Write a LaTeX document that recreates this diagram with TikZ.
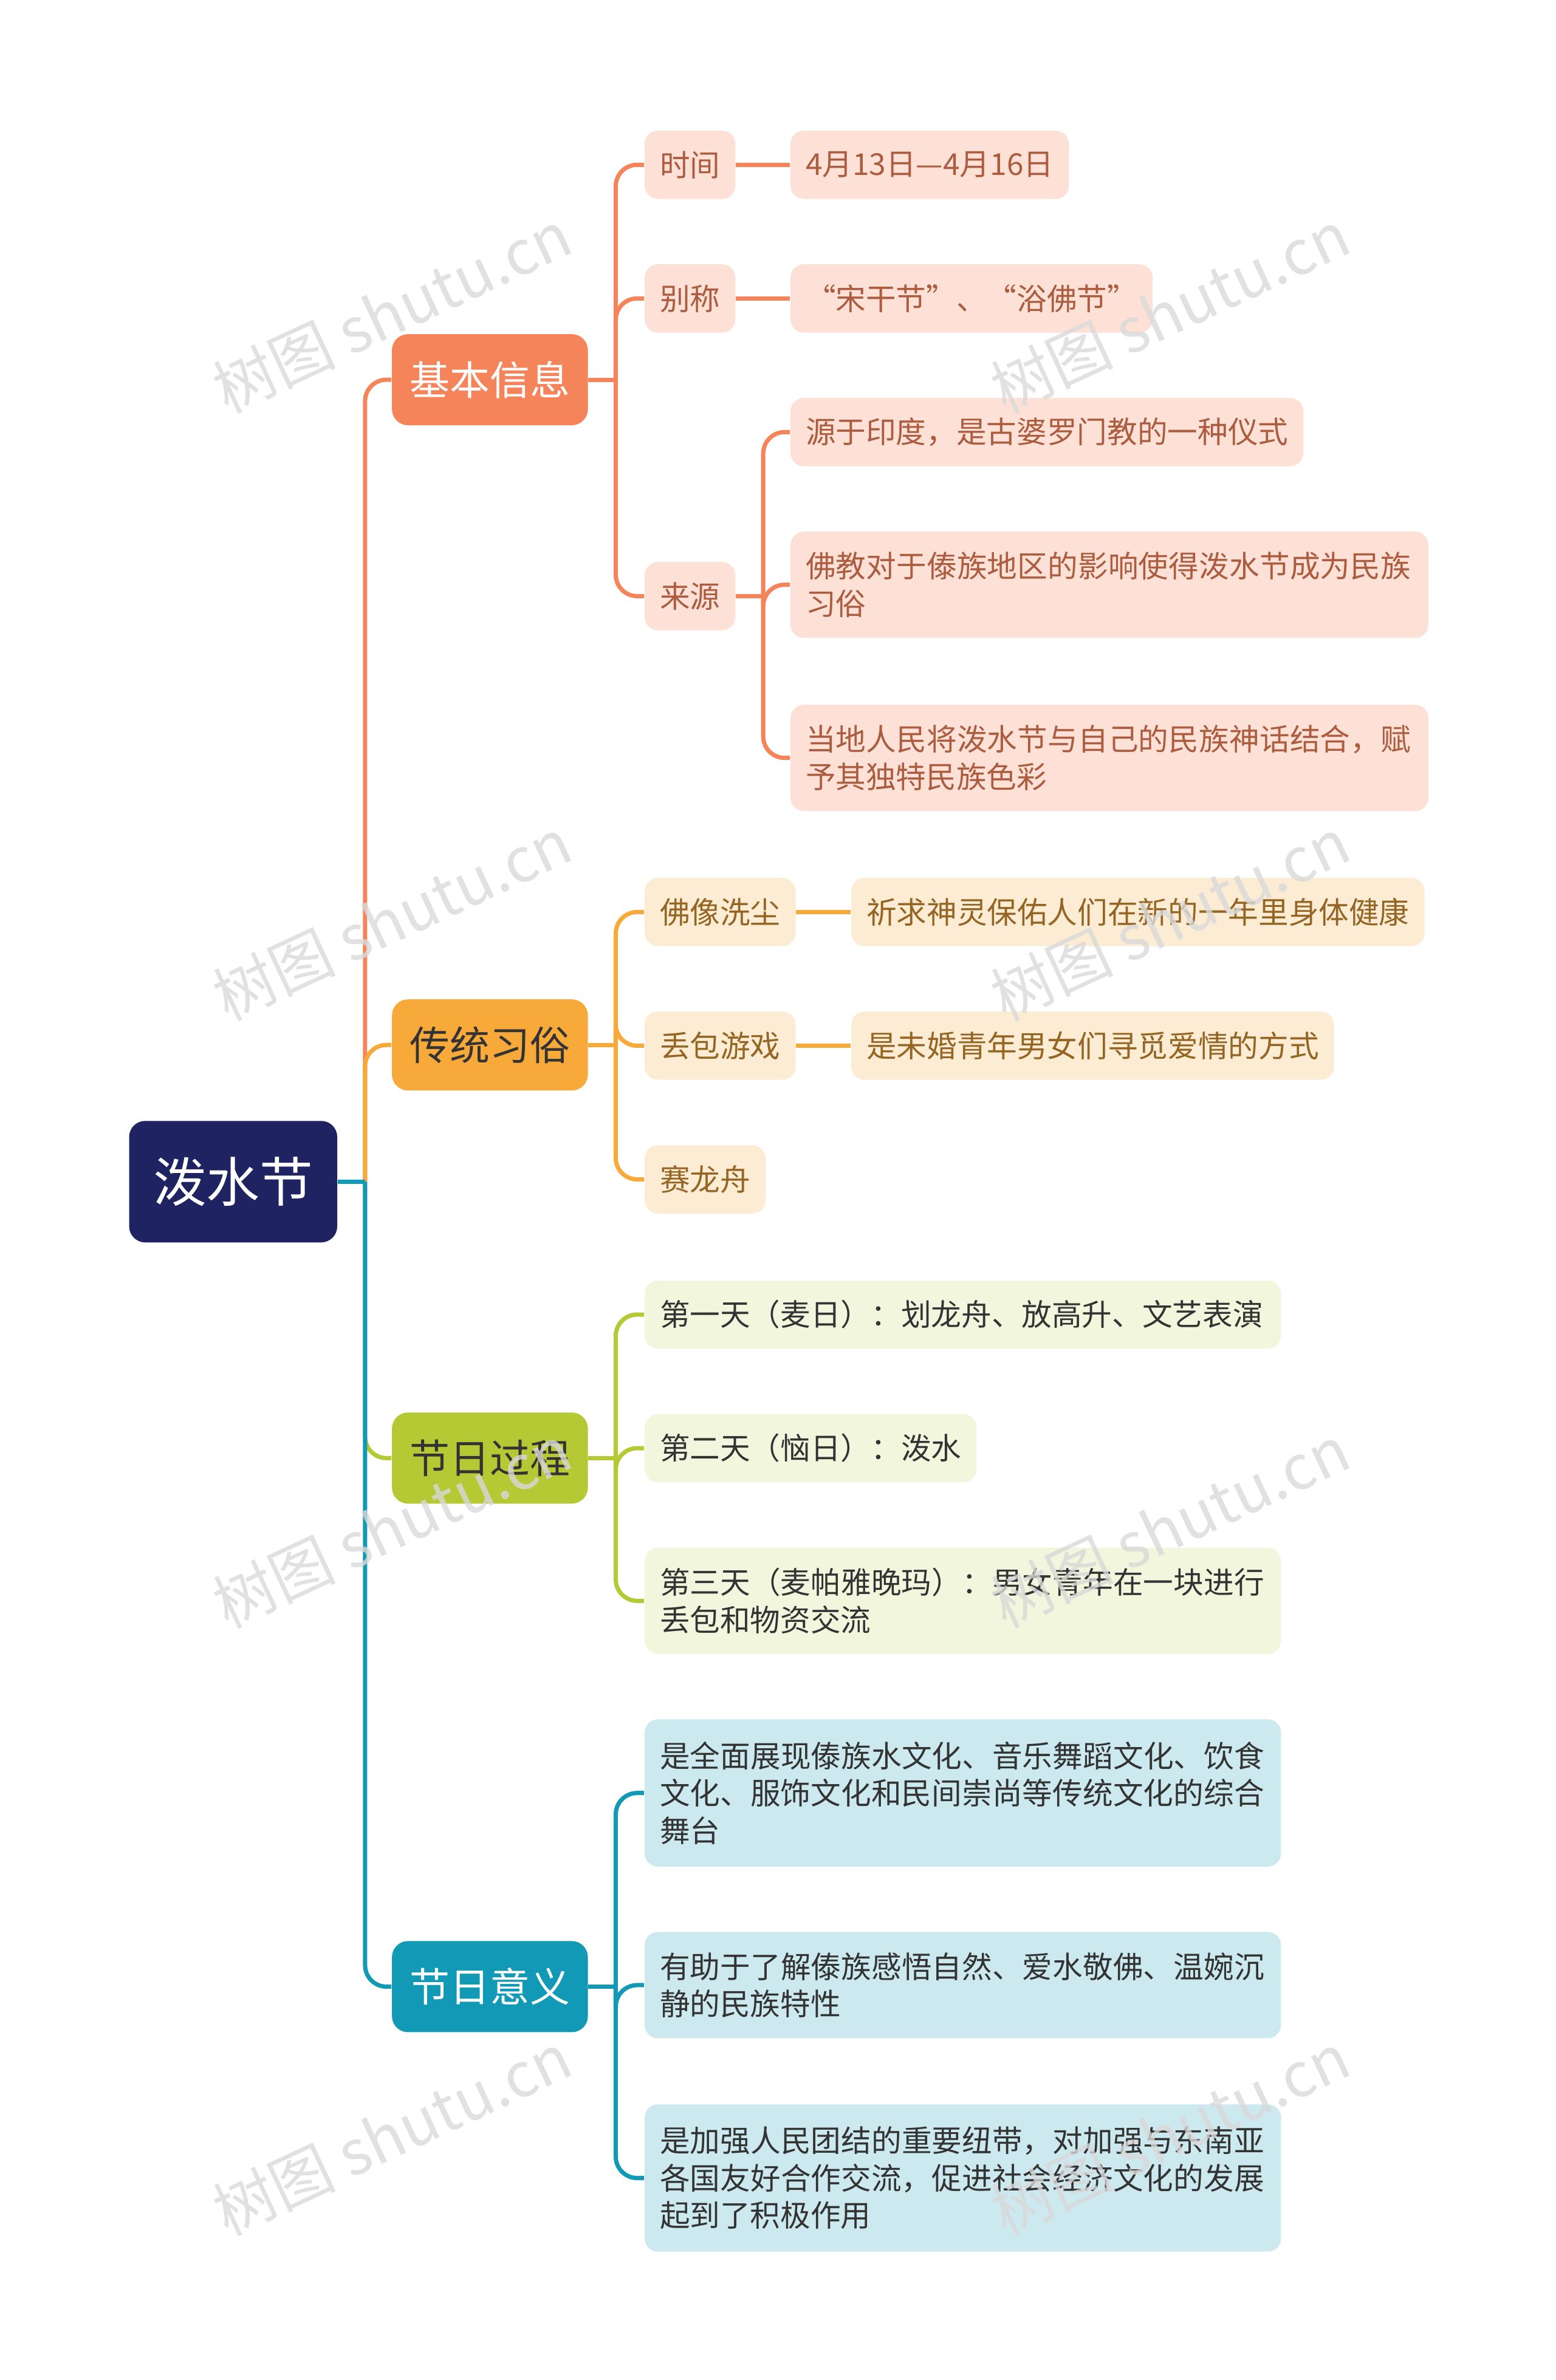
\documentclass[tikz,border=0pt]{standalone}
\usepackage{fontspec}
\setmainfont{Noto Sans CJK SC}
\XeTeXlinebreaklocale "zh"
\XeTeXlinebreakskip=0pt plus 1pt
\definecolor{rootc}{HTML}{1F2361}
\definecolor{infoc}{HTML}{F6845A}
\definecolor{custc}{HTML}{F7A93A}
\definecolor{procc}{HTML}{B5C934}
\definecolor{meanc}{HTML}{1199B5}
\begin{document}
\begin{tikzpicture}[x=0.02cm,y=-0.02cm,
  box/.style={rounded corners=5pt,inner xsep=0.2cm,inner ysep=0pt,minimum height=0.9cm,anchor=west,align=left,font=\fontsize{11.3}{14}\selectfont},
  branch/.style={rounded corners=6pt,minimum width=2.58cm,minimum height=1.2cm,text=white,font=\fontsize{15}{18}\selectfont},
  info/.style={box,fill=infoc!25,text=infoc!70!black},
  cust/.style={box,fill=custc!22,text=custc!60!black},
  proc/.style={box,fill=procc!17,text=black!80},
  mean/.style={box,fill=meanc!22,text=black!80},
  link/.style={line width=1.6pt,rounded corners=8pt},
  wmark/.style={rotate=25,text=gray!30,opacity=0.8,font=\fontsize{23}{23}\selectfont}]
\useasboundingbox (0,0) rectangle (1024,1567);

\node[rounded corners=6pt,fill=rootc,text=white,minimum width=2.74cm,minimum height=1.6cm,font=\fontsize{20}{24}\selectfont] (root) at (153.5,778) {泼水节};

\node[branch,fill=infoc] (info) at (322.5,250) {基本信息};
\node[branch,fill=custc,text=black!80] (cust) at (322.5,688) {传统习俗};
\node[branch,fill=procc,text=black!80] (proc) at (322.5,960) {节日过程};
\node[branch,fill=meanc] (mean) at (322.5,1308) {节日意义};

% basic info
\node[info] (time) at (424,108.5) {时间};
\node[info] (alias) at (424,196.5) {别称};
\node[info] (orig) at (424,392.5) {来源};
\node[info] (date) at (520,108.5) {4月13日—4月16日};
\node[info] (names) at (520,196.5) {“宋干节”、“浴佛节”};
\node[info] (o1) at (520,284.5) {源于印度，是古婆罗门教的一种仪式};
\node[info,text width=8.0cm,minimum height=1.4cm] (o2) at (520,385) {佛教对于傣族地区的影响使得泼水节成为民族习俗};
\node[info,text width=8.0cm,minimum height=1.4cm] (o3) at (520,499) {当地人民将泼水节与自己的民族神话结合，赋予其独特民族色彩};

% customs
\node[cust] (wash) at (424,600.5) {佛像洗尘};
\node[cust] (bag) at (424,688.5) {丢包游戏};
\node[cust] (boat) at (424,776.5) {赛龙舟};
\node[cust] (w1) at (560,600.5) {祈求神灵保佑人们在新的一年里身体健康};
\node[cust] (b1) at (560,688.5) {是未婚青年男女们寻觅爱情的方式};

% process
\node[proc,text width=7.98cm] (day1) at (424,865.5) {第一天（麦日）：划龙舟、放高升、文艺表演};
\node[proc] (day2) at (424,953.5) {第二天（恼日）：泼水};
\node[proc,text width=7.98cm,minimum height=1.4cm] (day3) at (424,1054) {第三天（麦帕雅晚玛）：男女青年在一块进行丢包和物资交流};

% meaning
\node[mean,text width=7.98cm,minimum height=1.94cm] (m1) at (424,1180.5) {是全面展现傣族水文化、音乐舞蹈文化、饮食文化、服饰文化和民间崇尚等传统文化的综合舞台};
\node[mean,text width=7.98cm,minimum height=1.4cm] (m2) at (424,1307) {有助于了解傣族感悟自然、爱水敬佛、温婉沉静的民族特性};
\node[mean,text width=7.98cm,minimum height=1.94cm] (m3) at (424,1434) {是加强人民团结的重要纽带，对加强与东南亚各国友好合作交流，促进社会经济文化的发展起到了积极作用};

% bus points
\coordinate (rb) at ([xshift=0.36cm]root.east);
\coordinate (ib) at ([xshift=0.36cm]info.east);
\coordinate (ob) at ([xshift=0.36cm]orig.east);
\coordinate (cb) at ([xshift=0.36cm]cust.east);
\coordinate (pb) at ([xshift=0.36cm]proc.east);
\coordinate (mb) at ([xshift=0.36cm]mean.east);

\draw[link,infoc] (rb) |- (info.west);
\draw[link,custc] (rb) |- (cust.west);
\draw[link,procc] (rb) |- (proc.west);
\draw[link,meanc] (rb) |- (mean.west);
\draw[link,meanc] (root.east) -- (rb);

\draw[link,infoc] (info.east) -- (ib);
\foreach \c in {time,alias,orig} \draw[link,infoc] (ib) |- (\c.west);
\draw[link,infoc] (time.east) -- (date.west);
\draw[link,infoc] (alias.east) -- (names.west);
\draw[link,infoc] (orig.east) -- (ob);
\foreach \c in {o1,o2,o3} \draw[link,infoc] (ob) |- (\c.west);

\draw[link,custc] (cust.east) -- (cb);
\foreach \c in {wash,bag,boat} \draw[link,custc] (cb) |- (\c.west);
\draw[link,custc] (wash.east) -- (w1.west);
\draw[link,custc] (bag.east) -- (b1.west);

\draw[link,procc] (proc.east) -- (pb);
\foreach \c in {day1,day2,day3} \draw[link,procc] (pb) |- (\c.west);
\draw[link,meanc] (mean.east) -- (mb);
\foreach \c in {m1,m2,m3} \draw[link,meanc] (mb) |- (\c.west);

% watermarks
\foreach \y in {205,605,1005,1405} {
  \node[wmark] at (258,\y) {树图 shutu.cn};
  \node[wmark] at (770,\y) {树图 shutu.cn};
}
\end{tikzpicture}
\end{document}
